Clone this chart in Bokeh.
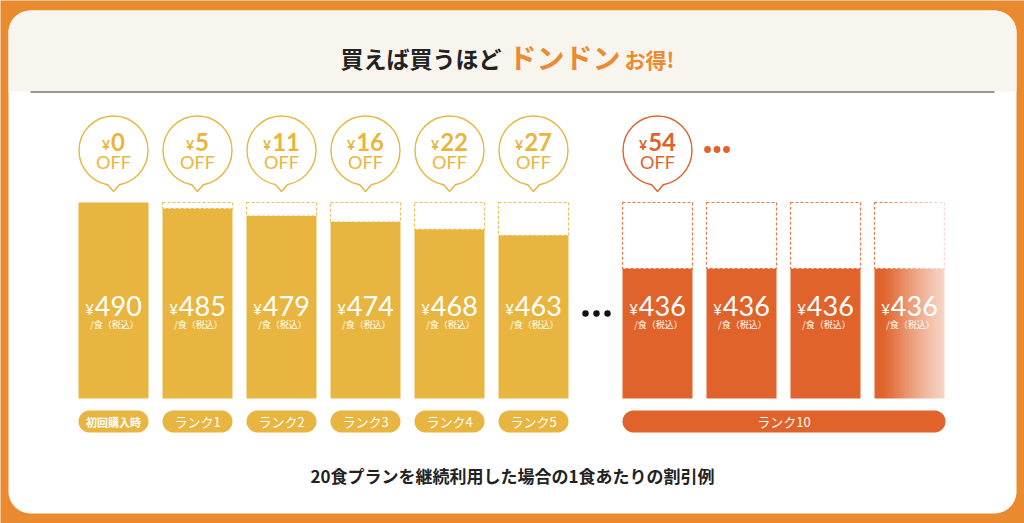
import numpy as np
from bokeh.plotting import figure
from bokeh.models import Range1d
from bokeh.embed import file_html
from bokeh.resources import INLINE
from bokeh.core.properties import value

# ---- data -------------------------------------------------------------
rank_labels = ["初回購入時", "ランク1", "ランク2", "ランク3", "ランク4", "ランク5"]
prices = [490, 485, 479, 474, 468, 463]          # price per meal (tax incl.)
discounts = [0, 5, 11, 16, 22, 27]               # discount vs. first purchase
rank10_label = "ランク10"
rank10_prices = [436, 436, 436, 436]
rank10_discount = 54
title_parts = ["買えば買うほど", "ドンドン", "お得!"]
unit_label = "/食（税込）"
caption = "20食プランを継続利用した場合の1食あたりの割引例"

# ---- style ------------------------------------------------------------
W, H = 1024, 523
FRAME = "#E98A2F"
HEADER_BG = "#F7F5EE"
GOLD = "#E8B640"
ORANGE = "#E0632B"
TITLE_ORANGE = "#EB8A2E"
DARK = "#222222"
JP = value("Noto Sans CJK JP")
NUM = value("Lato")

p = figure(width=W, height=H, x_range=Range1d(0, W), y_range=Range1d(H, 0),
           output_backend="svg", toolbar_location=None, min_border=0)
p.axis.visible = False
p.grid.visible = False
p.outline_line_color = None
p.background_fill_color = FRAME
p.border_fill_color = FRAME

# price scale: floor value sits on the bar baseline, first price on the top line
floor_val = 330
base_val = prices[0]
px_floor, px_base = 398, 202
k = (px_floor - px_base) / (base_val - floor_val)
p.extra_y_ranges = {"yen": Range1d(start=floor_val - (H - px_floor) / k,
                                   end=base_val + px_base / k)}


def rrect(x0, y0, x1, y1, r_top, r_bot, n=14):
    xs, ys = [], []
    corners = [(x0 + r_top, y0 + r_top, r_top, np.pi, 1.5 * np.pi),
               (x1 - r_top, y0 + r_top, r_top, 1.5 * np.pi, 2 * np.pi),
               (x1 - r_bot, y1 - r_bot, r_bot, 0, 0.5 * np.pi),
               (x0 + r_bot, y1 - r_bot, r_bot, 0.5 * np.pi, np.pi)]
    for cx, cy, r, a0, a1 in corners:
        t = np.linspace(a0, a1, n)
        xs.extend(cx + r * np.cos(t))
        ys.extend(cy + r * np.sin(t))
    return xs, ys


# ---- card and header --------------------------------------------------
cx_, cy_ = rrect(8, 10, 1016, 513, 22, 22)
p.patch(cx_, cy_, fill_color="white", line_color=None)
hx, hy = rrect(8, 10, 1016, 91, 22, 0)
p.patch(hx, hy, fill_color=HEADER_BG, line_color=None)
p.segment(x0=[30], y0=[91.5], x1=[994], y1=[91.5], line_color="#333333", line_width=1.2)

p.text(x=[340], y=[57], text=[title_parts[0]], text_font=JP, text_font_size="23px",
       text_font_style="bold", text_color=DARK, text_align="left", text_baseline="middle")
p.text(x=[508], y=[56], text=[title_parts[1]], text_font=JP, text_font_size="28px",
       text_font_style="bold", text_color=TITLE_ORANGE, text_align="left", text_baseline="middle")
p.text(x=[624], y=[58], text=[title_parts[2]], text_font=JP, text_font_size="21px",
       text_font_style="bold", text_color=TITLE_ORANGE, text_align="left", text_baseline="middle")

# ---- layout of the columns -------------------------------------------
BAR_W = 70
PITCH = 84
gold_x = [113 + PITCH * i for i in range(len(prices))]
orange_x = [657 + PITCH * j for j in range(len(rank10_prices))]


def yen_text(xc, y_num, y_yen, amount, fs_num, fs_yen, color, style):
    s = str(amount)
    yen_w = 0.58 * fs_yen
    num_w = 0.58 * fs_num * len(s)
    left = xc - (yen_w + num_w + 1) / 2
    p.text(x=[left], y=[y_yen], text=["¥"], text_font=NUM, text_font_size=f"{fs_yen}px",
           text_font_style=style, text_color=color, text_align="left",
           text_baseline="middle")
    p.text(x=[left + yen_w + 1], y=[y_num], text=[s], text_font=NUM,
           text_font_size=f"{fs_num}px", text_font_style=style, text_color=color,
           text_align="left", text_baseline="middle")


def bubble(xc, amount, color):
    p.circle(x=[xc], y=[150], radius=34.5, fill_color="white", line_color=color,
             line_width=1.4)
    p.patch([xc - 5.5, xc + 5.5, xc + 5.5, xc, xc - 5.5],
            [181, 181, 184.5, 190.5, 184.5], fill_color="white", line_color=None)
    p.line([xc - 6, xc, xc + 6], [184, 191, 184], line_color=color, line_width=1.4)
    yen_text(xc, 141.5, 143.5, amount, 24, 14, color, "bold")
    p.text(x=[xc], y=[161], text=["OFF"], text_font=NUM, text_font_size="18px",
           text_font_style="normal", text_color=color, text_align="center",
           text_baseline="middle")


def column(xc, price, color, dashed):
    l, r = xc - BAR_W / 2, xc + BAR_W / 2
    if dashed:
        p.quad(left=[l], right=[r], top=[base_val], bottom=[price], y_range_name="yen",
               fill_color=None, line_color=color, line_width=1.2, line_dash="3 2",
               line_alpha=0.85)
    p.quad(left=[l], right=[r], top=[price], bottom=[floor_val], y_range_name="yen",
           fill_color=color, line_color=None)
    yen_text(xc, 305, 308, price, 27, 15, "white", "normal")
    p.text(x=[xc + 1], y=[324], text=[unit_label], text_font=JP, text_font_size="9px",
           text_color="white", text_align="center", text_baseline="middle")


def pill(x0, x1, label, color, fs, style):
    px, py = rrect(x0, 410, x1, 432, 11, 11)
    p.patch(px, py, fill_color=color, line_color=None)
    p.text(x=[(x0 + x1) / 2], y=[421], text=[label], text_font=JP,
           text_font_size=f"{fs}px", text_font_style=style, text_color="white",
           text_align="center", text_baseline="middle")


for i, (xc, price, disc, lab) in enumerate(zip(gold_x, prices, discounts, rank_labels)):
    bubble(xc, disc, GOLD)
    column(xc, price, GOLD, price < base_val)
    pill(xc - BAR_W / 2, xc + BAR_W / 2, lab, GOLD, 11 if i == 0 else 13,
         "bold" if i == 0 else "normal")

bubble(orange_x[0], rank10_discount, ORANGE)
for xc, price in zip(orange_x, rank10_prices):
    column(xc, price, ORANGE, price < base_val)

# last column fades out to the right
f0, f1 = orange_x[-1] - 28, orange_x[-1] + BAR_W / 2 + 2
n = int(f1 - f0)
edges = np.linspace(f0, f1, n + 1)
alphas = np.linspace(0, 1, n) ** 1.1
p.quad(left=edges[:-1], right=edges[1:], top=[197] * n, bottom=[400] * n,
       fill_color="white", fill_alpha=alphas, line_color=None)

pill(orange_x[0] - BAR_W / 2, orange_x[-1] + BAR_W / 2 + 1, rank10_label, ORANGE, 13, "normal")

# ellipses
p.circle(x=[585, 596, 607], y=[313] * 3, radius=3.2, fill_color="#111111", line_color=None)
p.circle(x=[707, 716.5, 726], y=[149] * 3, radius=3.4, fill_color=ORANGE, line_color=None)

p.text(x=[512], y=[475], text=[caption], text_font=JP, text_font_size="17px",
       text_font_style="bold", text_color=DARK, text_align="center", text_baseline="middle")

open("out.html", "w").write(file_html(p, INLINE))
